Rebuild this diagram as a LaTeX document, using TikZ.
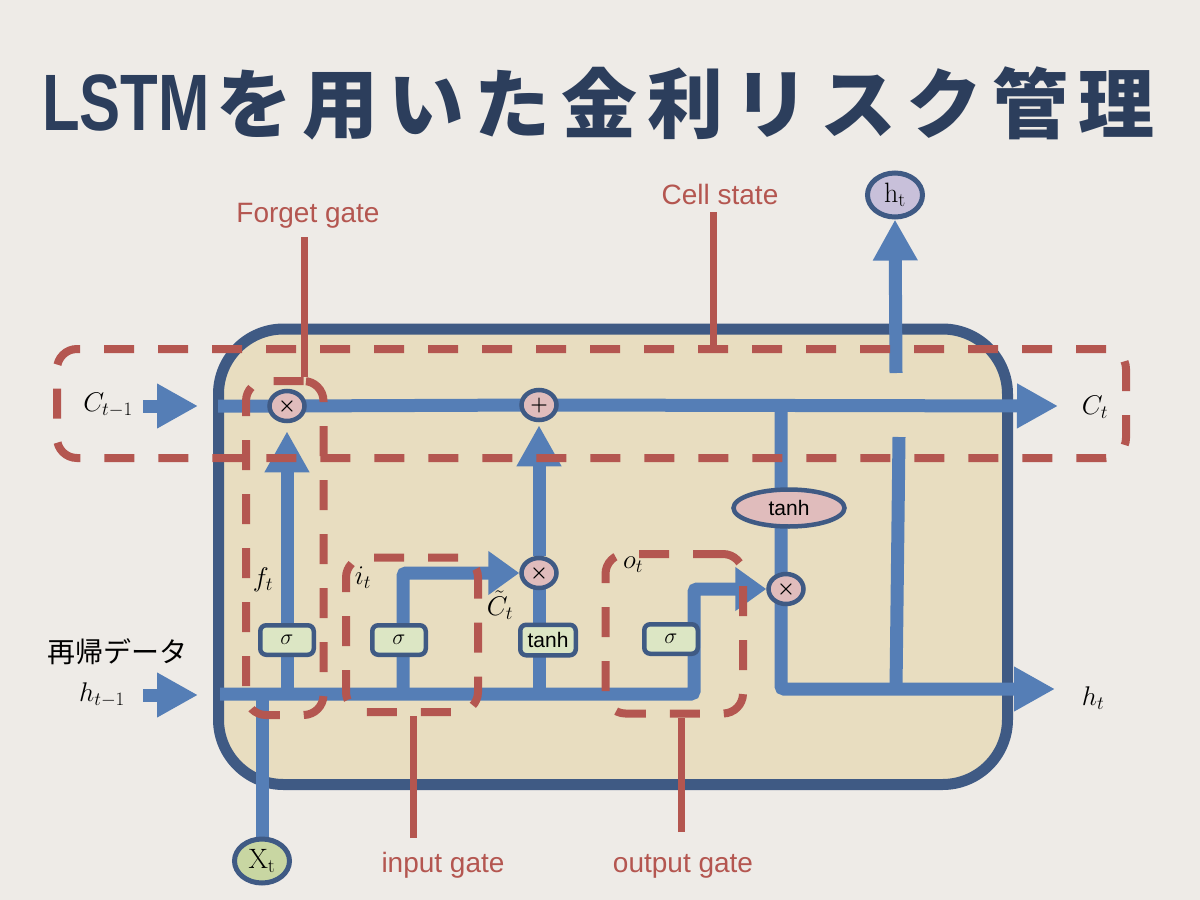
\RequirePackage{fix-cm}
\documentclass[tikz,border=0pt]{standalone}
\usepackage{fontspec}
\usepackage{graphicx}
\newfontfamily\jpfont{Noto Sans CJK JP}
\newfontfamily\arialf{Liberation Sans}
\usetikzlibrary{arrows.meta,shapes.geometric}
\definecolor{bgc}{RGB}{238,235,231}
\definecolor{cellf}{RGB}{232,221,192}
\definecolor{navy}{RGB}{63,90,132}
\definecolor{lineblue}{RGB}{85,126,182}
\definecolor{redc}{RGB}{180,86,80}
\definecolor{pinkf}{RGB}{224,188,188}
\definecolor{greenf}{RGB}{220,230,196}
\definecolor{xgreen}{RGB}{200,214,162}
\definecolor{purplef}{RGB}{200,192,218}
\definecolor{titlec}{RGB}{44,62,92}
\newcommand\jchar[1]{\makebox[86.3pt]{#1}}
\pgfdeclarelayer{back}
\pgfdeclarelayer{lines}
\pgfdeclarelayer{front}
\pgfsetlayers{back,lines,main,front}
\begin{document}
\begin{tikzpicture}[x=1pt,y=-1pt,
  blueline/.style={draw=lineblue, line width=13pt},
  tipbig/.style={-{Triangle[length=41pt,width=42pt]}},
  tipsmall/.style={-{Triangle[length=31pt,width=42pt]}},
  opnode/.style={ellipse, draw=navy, line width=4.5pt, fill=pinkf, inner sep=0pt, minimum width=35pt, minimum height=30pt, font=\boldmath\fontsize{20}{24}\selectfont},
  gatebox/.style={rectangle, rounded corners=6pt, draw=navy, line width=4.5pt, fill=greenf, minimum width=53.5pt, minimum height=29.5pt, inner sep=0pt, font=\fontsize{22}{24}\selectfont},
  roundio/.style={ellipse, draw=navy, line width=5pt, inner sep=0pt, minimum width=55pt, minimum height=44pt, font=\fontsize{28}{30}\selectfont},
  dashbox/.style={rectangle, rounded corners=20pt, draw=redc, line width=8pt, dash pattern=on 30pt off 24pt, inner sep=0pt},
  redptr/.style={draw=redc, line width=7pt},
  redlbl/.style={text=redc, font=\arialf\fontsize{28}{34}\selectfont, inner sep=0pt, anchor=base},
  mathlbl/.style={font=\fontsize{27}{30}\selectfont, inner sep=0pt}
]
\begin{pgfonlayer}{back}
\fill[bgc] (0,0) rectangle (1200,900);
\node[rectangle, rounded corners=65pt, draw=navy, line width=11pt, fill=cellf, minimum width=789pt, minimum height=455.5pt, inner sep=0pt] (cell) at (613,556.75) {};
\end{pgfonlayer}
\useasboundingbox (0,0) rectangle (1200,900);

% title
\node[anchor=base, inner sep=0pt, text=titlec] (t1) at (126,130) {\scalebox{0.77}[1]{\arialf\bfseries\fontsize{80}{90}\selectfont LSTM}};
\node[inner sep=0pt, text=titlec, font=\jpfont\bfseries\fontsize{76}{80}\selectfont] (t2) at (685.5,103) {\jchar{を}\jchar{用}\jchar{い}\jchar{た}\jchar{金}\jchar{利}\jchar{リ}\jchar{ス}\jchar{ク}\jchar{管}\jchar{理}};

% operation nodes
\node[opnode] (fx) at (287,406) {$\times$};
\node[opnode] (plus) at (539,405) {$+$};
\node[opnode] (ix) at (539,573) {$\times$};
\node[opnode] (ox) at (786,589) {$\times$};
\node[gatebox] (fs) at (287,640) {$\sigma$};
\node[gatebox] (is) at (399,640) {$\sigma$};
\node[gatebox, minimum width=55.5pt, minimum height=30.5pt, font=\arialf\fontsize{21}{24}\selectfont] (ct) at (548,640) {tanh};
\node[gatebox] (os) at (671,639) {$\sigma$};
\node[ellipse, draw=navy, line width=4.5pt, fill=pinkf, minimum width=111pt, minimum height=37pt, inner sep=0pt, font=\arialf\fontsize{21}{24}\selectfont] (th) at (789,508) {tanh};
\node[roundio, fill=purplef] (ht) at (895,195) {$\mathrm{h}_\mathrm{t}$};
\node[roundio, fill=xgreen] (xt) at (262,861) {$\mathrm{X}_\mathrm{t}$};

% labels
\node[mathlbl] (lc0) at (108,405) {$C_{t-1}$};
\node[mathlbl] (lh0) at (102,695) {$h_{t-1}$};
\node[mathlbl] (lc1) at (1095,407) {$C_t$};
\node[mathlbl] (lh1) at (1093,698) {$h_t$};
\node[mathlbl] (lf) at (263,580) {$f_t$};
\node[mathlbl] (li) at (363,578) {$i_t$};
\node[mathlbl] (lct) at (500,605) {$\tilde{C}_t$};
\node[mathlbl] (lo) at (633,565) {$o_t$};
\node[inner sep=0pt, font=\jpfont\fontsize{28}{32}\selectfont] (rec) at (117,652) {再帰データ};

% coordinates
\coordinate (cin) at (143,406);
\coordinate (cinE) at (198,406);
\coordinate (hin) at (143,695);
\coordinate (hinE) at (198,695);
\coordinate (cl) at (218,406);
\coordinate (cout) at (1058,406);
\coordinate (hl) at (220,694);
\coordinate (oturn) at (694,694);
\coordinate (otop) at (694,589);
\coordinate (ib) at (403,694);
\coordinate (it) at (403,573);
\coordinate (ocr) at (781,406);
\coordinate (obl) at (781,689);
\coordinate (hout) at (1055,689);
\coordinate (hvb) at (896,689);
\coordinate (hvt) at (899,437);
\coordinate (hup) at (896,373);

\begin{pgfonlayer}{lines}
\draw[blueline,tipbig] (cin) -- (cinE);
\draw[blueline,tipbig] (hin) -- (hinE);
\draw[blueline,tipbig] (cl) -- (fx.center) -- (plus.center) -- (cout);
\draw[blueline,tipsmall,rounded corners=3pt] (hl) -- (oturn) -- (otop) -- (ox.west);
\draw[blueline,tipbig,shorten >=8pt] (fx |- hl) -- (fx.south);
\draw[blueline,tipsmall,rounded corners=3pt] (ib) -- (it) -- (ix.west);
\draw[blueline] (xt) -- (xt |- hl);
\draw[blueline] (ix |- hl) -- (ix.center);
\draw[blueline,tipbig,shorten >=3pt] (ix) -- (plus);
\draw[blueline,tipbig,rounded corners=3pt] (ocr) -- (ocr |- th) -- (ocr |- ox) -- (obl) -- (hout);
\draw[blueline] (hvb) -- (hvt);
\draw[blueline,tipbig] (hup) -- (ht.south);
\end{pgfonlayer}

\begin{pgfonlayer}{front}
\node[dashbox, minimum width=1069pt, minimum height=109pt] (csbox) at (591.5,403.5) {};
\node[dashbox, minimum width=77.5pt, minimum height=334pt] (fbox) at (284.75,548) {};
\node[dashbox, minimum width=132pt, minimum height=154.5pt] (ibox) at (412,634.75) {};
\node[dashbox, minimum width=137.5pt, minimum height=159.5pt] (obox) at (674.25,633.75) {};
\node[redlbl] (fgl) at (308,222) {Forget gate};
\node[redlbl] (csl) at (720,204) {Cell state};
\node[redlbl] (igl) at (443,872) {input gate};
\node[redlbl] (ogl) at (683,872) {output gate};
\coordinate (pf) at (304,237);
\coordinate (pc) at (713,212);
\coordinate (pi) at (413,838);
\coordinate (po) at (681,832);
\draw[redptr] (pf) -- (pf |- fbox.north);
\draw[redptr] (pc) -- (pc |- csbox.north);
\draw[redptr] (pi) -- (pi |- ibox.south);
\draw[redptr] (po) -- (po |- obox.south);
\end{pgfonlayer}
\end{tikzpicture}
\end{document}
